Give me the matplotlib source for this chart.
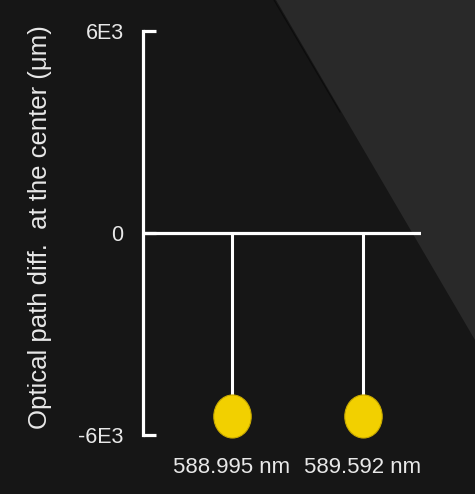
import matplotlib
matplotlib.use("Agg")
import matplotlib.pyplot as plt
import numpy as np
from matplotlib.path import Path
from matplotlib.patches import Polygon
from matplotlib.lines import Line2D

# Data
wavelengths = ["588.995 nm", "589.592 nm"]
opd_values = [-5450, -5450]
y_ticks = [-6000, 0, 6000]
y_tick_labels = ["-6E3", "0", "6E3"]
y_label = "Optical path diff.  at the center (μm)"

W, H = 475, 494
fig = plt.figure(figsize=(W / 100, H / 100), dpi=100)
fig.patch.set_facecolor("#161616")

# Lighter diagonal region in the background
tri = Polygon([(276 / W, 1.0), (1.0, 1.0), (1.0, 1 - 340 / H)], closed=True,
              transform=fig.transFigure, facecolor="#292929", edgecolor="none", zorder=-2)
fig.patches.append(tri)
fig.lines.append(Line2D([274 / W, 340 / W], [1.0, 1 - 112 / H], transform=fig.transFigure,
                        color="#0c0c0c", lw=0.8, zorder=-1))

ax = fig.add_axes([143 / W, 59 / H, (421 - 143) / W, (463 - 59) / H])
ax.set_facecolor("none")

x = np.arange(len(wavelengths))
ax.set_xlim(-0.679, 1.443)
ax.set_ylim(-6000, 6000)

ax.axhline(0, color="white", lw=2.3, zorder=2)
ax.vlines(x, 0, opd_values, color="white", lw=2.2, zorder=2)

circ = Path.unit_circle()
ell = Path(circ.vertices * np.array([1.0, 1.15]), circ.codes)
ax.plot(x, opd_values, linestyle="none", marker=ell, markersize=31, clip_on=False,
        markerfacecolor="#f2d000", markeredgecolor="#c9aa00", markeredgewidth=0.8, zorder=3)

for s in ["top", "right", "bottom"]:
    ax.spines[s].set_visible(False)
ax.spines["left"].set_color("white")
ax.spines["left"].set_linewidth(2.3)

font = "Liberation Sans"
ax.set_yticks(y_ticks)
ax.set_yticklabels(y_tick_labels, fontsize=15.5, color="#e8e8e8", family=font)
ax.tick_params(axis="y", direction="in", length=9, width=2.3, color="white", pad=14)

ax.set_xticks(x)
ax.set_xticklabels(wavelengths, fontsize=16, color="#e8e8e8", family=font)
ax.tick_params(axis="x", length=0, pad=16)

fig.text(40 / W, 1 - 227 / H, y_label, rotation=90, ha="center", va="center",
         fontsize=18.5, color="#e8e8e8", family=font)

fig.savefig("out.png", dpi=100, facecolor=fig.get_facecolor())
